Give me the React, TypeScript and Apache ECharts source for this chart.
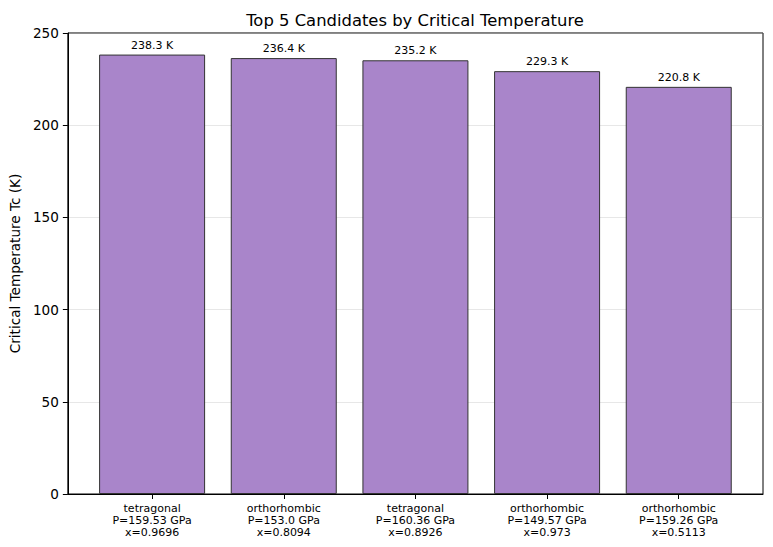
import React, { useEffect, useRef } from "react";
import * as echarts from "echarts";

const categories = [
  "tetragonal\nP=159.53 GPa\nx=0.9696",
  "orthorhombic\nP=153.0 GPa\nx=0.8094",
  "tetragonal\nP=160.36 GPa\nx=0.8926",
  "orthorhombic\nP=149.57 GPa\nx=0.973",
  "orthorhombic\nP=159.26 GPa\nx=0.5113",
];
const tcValues = [238.3, 236.4, 235.2, 229.3, 220.8];
const yTicks = [0, 50, 100, 150, 200, 250];

const FONT = "DejaVu Sans, sans-serif";

export default function App() {
  const ref = useRef<HTMLDivElement>(null);
  useEffect(() => {
    if (!ref.current) return;
    const chart = echarts.init(ref.current, null, { renderer: "svg" });
    const positions = categories.map((_, i) => i);
    chart.setOption({
      animation: false,
      textStyle: { fontFamily: FONT, color: "#000" },
      title: {
        text: "Top 5 Candidates by Critical Temperature",
        left: 410,
        textAlign: "center",
        top: 7,
        textStyle: { fontFamily: FONT, fontSize: 16.4, fontWeight: "normal", color: "#000" },
      },
      grid: {
        left: 66,
        right: 10,
        top: 33,
        bottom: 53,
        show: true,
        borderColor: "#000",
        borderWidth: 1,
        backgroundColor: "transparent",
      },
      xAxis: {
        type: "value",
        min: -0.64,
        max: 4.64,
        axisLine: { show: true, onZero: false, lineStyle: { color: "#000" } },
        splitLine: { show: false },
        axisTick: {
          show: true,
          length: 5,
          lineStyle: { color: "#000" },
          customValues: positions,
        },
        axisLabel: {
          customValues: positions,
          formatter: (v: number) => categories[Math.round(v)] ?? "",
          fontFamily: FONT,
          fontSize: 11,
          lineHeight: 12,
          color: "#000",
          margin: 8,
          align: "center",
        },
      },
      yAxis: {
        type: "value",
        min: 0,
        max: 250,
        interval: 50,
        name: "Critical Temperature Tc (K)",
        nameLocation: "middle",
        nameGap: 45,
        nameTextStyle: { fontFamily: FONT, fontSize: 13.6, color: "#000" },
        axisLine: { show: true, onZero: false, lineStyle: { color: "#000" } },
        axisTick: { show: true, length: 5, lineStyle: { color: "#000" } },
        axisLabel: {
          fontFamily: FONT,
          fontSize: 13.6,
          color: "#000",
          margin: 9,
          formatter: (v: number) => (yTicks.includes(v) ? String(v) : ""),
        },
        splitLine: { show: true, lineStyle: { color: "rgba(176,176,176,0.3)", width: 1 } },
      },
      series: [
        {
          type: "bar",
          data: tcValues.map((v, i) => [i, v]),
          barWidth: 106,
          itemStyle: {
            color: "#a985ca",
            borderColor: "#333333",
            borderWidth: 1,
          },
          label: {
            show: true,
            position: "top",
            distance: 4,
            formatter: (p: any) => `${p.value[1].toFixed(1)} K`,
            fontFamily: FONT,
            fontSize: 11,
            color: "#000",
          },
        },
      ],
    });
    return () => chart.dispose();
  }, []);
  return (
    <div
      ref={ref}
      style={{ position: "fixed", left: 0, top: 0, width: 773, height: 547, background: "#fff" }}
    />
  );
}
